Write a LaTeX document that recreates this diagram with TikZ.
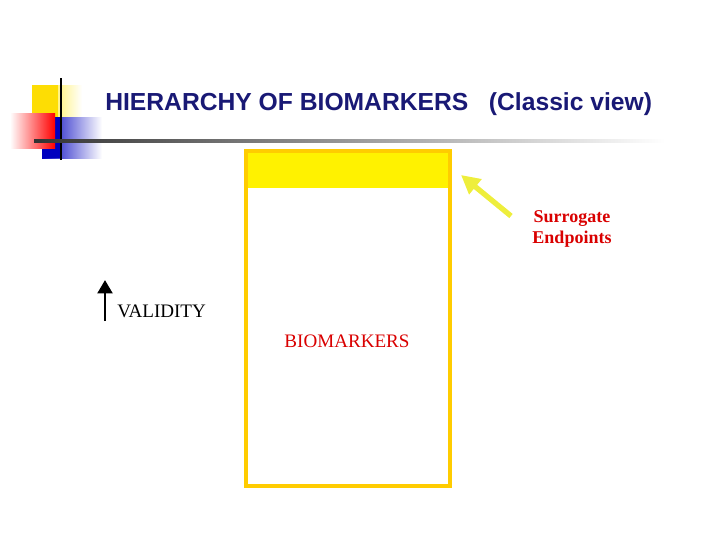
\documentclass[tikz,border=0pt]{standalone}
\usepackage{fontspec}
\usetikzlibrary{arrows.meta}
\setmainfont{Liberation Serif}
\newfontfamily\titlefont{Liberation Sans}
\tikzset{
  ttl/.style={font=\titlefont\bfseries\fontsize{18.5}{21}\selectfont, text=blue!40!black!90, anchor=west, inner sep=0},
  redlbl/.style={font=\fontsize{13.5}{16}\selectfont\bfseries, text=red!85!black, align=center, inner sep=0},
  plain/.style={font=\fontsize{14.3}{16}\selectfont, inner sep=0},
}
\begin{document}
\begin{tikzpicture}[x=0.75pt,y=-0.75pt]
\useasboundingbox (0,0) rectangle (720,540);
% logo
\shade[left color=yellow!80!orange, right color=white] (32,85) rectangle (82,118);
\fill[yellow!80!orange] (32,85) rectangle (58,118);
\shade[left color=blue!75!black, right color=white] (42,117) rectangle (102,158);
\fill[blue!75!black] (42,117) rectangle (62,158);
\shade[left color=white, right color=red] (10,113) rectangle (55,148);
\draw[line width=2.2pt] (61,78) -- (61,160);
\shade[left color=black!80, right color=white] (34,139.5) rectangle (665,142.5);
\node[ttl] (title) at (105,104) {HIERARCHY OF BIOMARKERS\ \ \ (Classic view)};
% box
\fill[yellow] (246,151) rectangle (450,188);
\draw[line width=3pt, color={rgb,255:red,255;green,204;blue,0}] (246,151) rectangle (450,486);
\coordinate (tgt) at (461,175);
\node[redlbl] (sur) at (572,229) {Surrogate\\Endpoints};
\coordinate (src) at (511,216);
\draw[line width=4pt, color={rgb,255:red,238;green,238;blue,60}, -{Triangle[length=14pt,width=14pt]}] (src) -- (tgt);
\coordinate (vb) at (105,321);
\coordinate (vt) at (105,280);
\draw[line width=2.2pt, -{Triangle[length=10pt,width=11pt]}] (vb) -- (vt);
\node[plain, anchor=west] (val) at (117,311) {VALIDITY};
\node[plain, text=red!85!black] (bio) at (347,341) {BIOMARKERS};
\end{tikzpicture}
\end{document}
